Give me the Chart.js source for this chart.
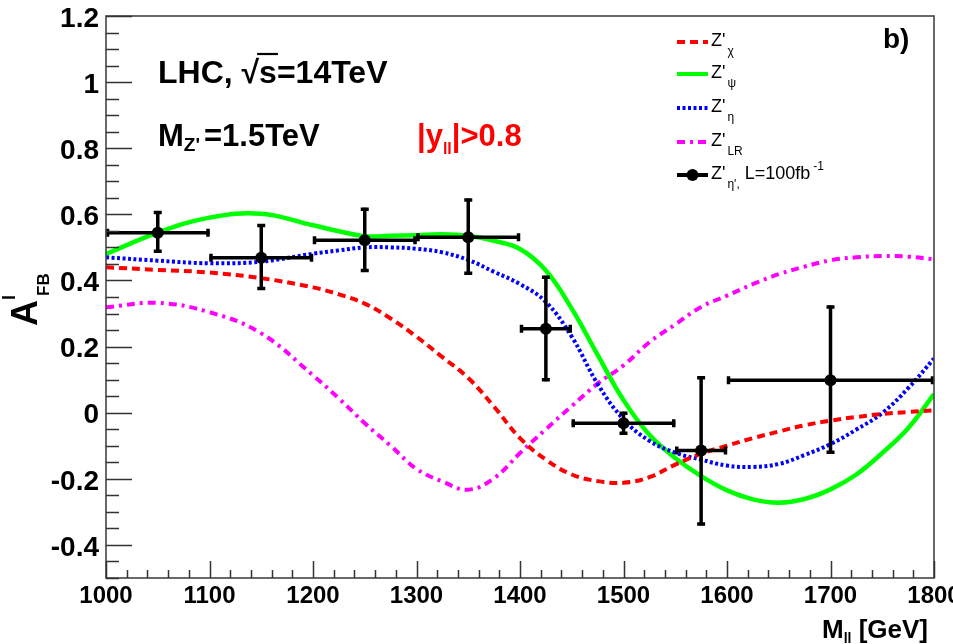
<!DOCTYPE html>
<html><head><meta charset="utf-8">
<script src="https://cdn.jsdelivr.net/npm/chart.js@4.4.1/dist/chart.umd.min.js"></script>
<style>html,body{margin:0;padding:0;background:#fff;}canvas{display:block;}</style>
</head><body>
<canvas id="c" width="953" height="644"></canvas>
<script>
// ---- data ----
const massGrid = [1000,1050,1100,1150,1200,1225,1250,1275,1300,1325,1350,1375,1400,1425,1450,1475,1500,1525,1550,1575,1600,1625,1650,1675,1700,1725,1750,1775,1800];
const zChi = [0.440,0.432,0.424,0.407,0.379,0.358,0.330,0.285,0.230,0.168,0.105,0.018,-0.077,-0.142,-0.187,-0.207,-0.212,-0.195,-0.157,-0.124,-0.100,-0.077,-0.057,-0.038,-0.024,-0.013,-0.004,0.002,0.007];
const zPsi = [0.480,0.545,0.590,0.602,0.567,0.549,0.534,0.535,0.537,0.540,0.535,0.520,0.495,0.430,0.315,0.175,0.038,-0.067,-0.137,-0.192,-0.235,-0.262,-0.272,-0.261,-0.232,-0.187,-0.122,-0.047,0.056];
const zEta = [0.470,0.460,0.452,0.457,0.481,0.491,0.500,0.500,0.496,0.485,0.462,0.426,0.389,0.335,0.230,0.087,-0.020,-0.085,-0.121,-0.142,-0.160,-0.164,-0.155,-0.128,-0.095,-0.051,-0.001,0.074,0.164];
const zLR  = [0.319,0.332,0.304,0.240,0.113,0.043,-0.032,-0.100,-0.170,-0.208,-0.233,-0.198,-0.122,-0.050,0.020,0.088,0.143,0.213,0.267,0.320,0.354,0.389,0.419,0.442,0.461,0.470,0.474,0.472,0.464];

const dataX     = [1050,1150,1250,1350,1425,1500,1575,1700];
const dataY     = [0.544,0.469,0.522,0.531,0.254,-0.032,-0.114,0.098];
const dataXLow  = [1000,1100,1200,1300,1400,1450,1550,1600];
const dataXHigh = [1100,1200,1300,1400,1450,1550,1600,1800];
const dataYLow  = [0.484,0.371,0.426,0.417,0.095,-0.067,-0.341,-0.124];
const dataYHigh = [0.610,0.571,0.620,0.648,0.414,0.003,0.110,0.324];

const xTicks = [1000,1100,1200,1300,1400,1500,1600,1700,1800];
const xTickLabels = ['1000','1100','1200','1300','1400','1500','1600','1700','1800'];
const yTicks = [-0.4,-0.2,0,0.2,0.4,0.6,0.8,1.0,1.2];
const yTickLabels = ['-0.4','-0.2','0','0.2','0.4','0.6','0.8','1','1.2'];

const FONT = '"Liberation Sans", Arial, Helvetica, sans-serif';

function rich(ctx, x, y, parts) {
  for (const p of parts) {
    ctx.font = (p.w || 'bold') + ' ' + p.s + 'px ' + FONT;
    ctx.fillStyle = p.c || '#000';
    x += (p.pre || 0);
    ctx.fillText(p.t, x, y + (p.dy || 0));
    x += ctx.measureText(p.t).width;
  }
  return x;
}

function drawErrorBars(chart) {
  const ctx = chart.ctx, xs = chart.scales.x, ys = chart.scales.y;
  ctx.save();
  ctx.strokeStyle = '#000';
  ctx.lineCap = 'butt';
  for (let i = 0; i < dataX.length; i++) {
    const px = xs.getPixelForValue(dataX[i]), py = ys.getPixelForValue(dataY[i]);
    const x0 = xs.getPixelForValue(dataXLow[i]), x1 = xs.getPixelForValue(dataXHigh[i]);
    const y0 = ys.getPixelForValue(dataYLow[i]), y1 = ys.getPixelForValue(dataYHigh[i]);
    ctx.lineWidth = 3.5;
    ctx.beginPath();
    ctx.moveTo(x0, py); ctx.lineTo(x1, py);
    ctx.moveTo(px, y0); ctx.lineTo(px, y1);
    ctx.stroke();
    ctx.beginPath();
    ctx.moveTo(x0 + 1.5, py - 4); ctx.lineTo(x0 + 1.5, py + 4);
    ctx.moveTo(x1 - 1.5, py - 4); ctx.lineTo(x1 - 1.5, py + 4);
    ctx.moveTo(px - 4, y0 - 1.5); ctx.lineTo(px + 4, y0 - 1.5);
    ctx.moveTo(px - 4, y1 + 1.5); ctx.lineTo(px + 4, y1 + 1.5);
    ctx.stroke();
  }
  ctx.restore();
}

const rootPlugin = {
  id: 'rootStyle',
  beforeDatasetDraw(chart, args) {
    if (args.index === 0) drawErrorBars(chart);
  },
  afterDraw(chart) {
    const ctx = chart.ctx, a = chart.chartArea, xs = chart.scales.x, ys = chart.scales.y;
    ctx.save();
    // frame
    ctx.strokeStyle = '#444';
    ctx.lineWidth = 1.6;
    ctx.strokeRect(a.left, a.top, a.right - a.left, a.bottom - a.top);
    // ticks
    ctx.strokeStyle = '#333';
    ctx.lineWidth = 1.5;
    ctx.beginPath();
    for (let v = -0.5; v <= 1.2001; v += 0.05) {
      const y = Math.round(ys.getPixelForValue(v)) + 0.5;
      const major = Math.abs(Math.round(v * 5) - v * 5) < 1e-6;
      ctx.moveTo(a.left, y); ctx.lineTo(a.left + (major ? 26 : 13), y);
    }
    for (let v = 1000; v <= 1800; v += 20) {
      const x = Math.round(xs.getPixelForValue(v)) + 0.5;
      const major = v % 100 === 0;
      ctx.moveTo(x, a.bottom); ctx.lineTo(x, a.bottom - (major ? 17 : 8));
    }
    ctx.stroke();

    // annotation texts
    ctx.textBaseline = 'alphabetic';
    ctx.textAlign = 'left';
    let x = rich(ctx, 158, 83, [{t: 'LHC, ', s: 32}]);
    x = rich(ctx, x, 83, [{t: '\u221A', s: 32}]);
    const sx = x;
    x = rich(ctx, x, 83, [{t: 's', s: 32}]);
    ctx.strokeStyle = '#000'; ctx.lineWidth = 2.2;
    ctx.beginPath(); ctx.moveTo(sx - 2, 54); ctx.lineTo(x + 1, 54); ctx.stroke();
    rich(ctx, x, 83, [{t: '=14TeV', s: 32}]);

    rich(ctx, 158, 146, [
      {t: 'M', s: 31},
      {t: "Z'", s: 19, dy: 5},
      {t: '=1.5TeV', s: 31, pre: 4}
    ]);
    rich(ctx, 417, 146, [
      {t: '|y', s: 31, c: '#ff0000'},
      {t: 'll', s: 16, dy: 8, c: '#ff0000'},
      {t: '|>0.8', s: 31, c: '#ff0000'}
    ]);
    rich(ctx, 883, 48, [{t: 'b)', s: 28}]);

    // x title (right aligned at 928)
    ctx.font = 'bold 26px ' + FONT;
    const w1 = ctx.measureText('M').width, w3 = ctx.measureText(' [GeV]').width;
    ctx.font = 'bold 14px ' + FONT;
    const w2 = ctx.measureText('ll').width;
    rich(ctx, 928 - (w1 + w2 + w3), 638, [
      {t: 'M', s: 26},
      {t: 'll', s: 14, dy: 5},
      {t: ' [GeV]', s: 26}
    ]);

    // y title rotated
    ctx.save();
    ctx.translate(37, 326);
    ctx.rotate(-Math.PI / 2);
    rich(ctx, 0, 0, [{t: 'A', s: 36}]);
    rich(ctx, 26, -22, [{t: 'l', s: 18}]);
    rich(ctx, 30, 12, [{t: 'FB', s: 17}]);
    ctx.restore();

    // legend
    const lx0 = 677, lx1 = 708, tx = 711;
    const rows = [42, 74, 108, 142, 175];
    const styles = [
      {c: '#ff0000', d: [8, 5]},
      {c: '#00ff00', d: []},
      {c: '#0000ff', d: [3, 2.5]},
      {c: '#ff00ff', d: [8, 5, 3, 5]},
      {c: '#000000', d: []}
    ];
    const subs = ['\u03C7', '\u03C8', '\u03B7', 'LR', "\u03B7',"];
    for (let i = 0; i < 5; i++) {
      const y = rows[i];
      ctx.strokeStyle = styles[i].c;
      ctx.lineWidth = 4;
      ctx.setLineDash(styles[i].d);
      ctx.beginPath(); ctx.moveTo(lx0, y); ctx.lineTo(lx1, y); ctx.stroke();
      ctx.setLineDash([]);
      if (i === 4) {
        ctx.fillStyle = '#000';
        ctx.beginPath(); ctx.arc((lx0 + lx1) / 2, y, 6, 0, Math.PI * 2); ctx.fill();
      }
      const parts = [
        {t: "Z'", s: 18, w: 'normal'},
        {t: subs[i], s: 12, w: 'normal', dy: 9, pre: 2}
      ];
      if (i === 4) {
        parts.push({t: ' L=100fb', s: 18, w: 'normal'});
        parts.push({t: '-1', s: 12, w: 'normal', dy: -9, pre: 3});
      }
      rich(ctx, tx, y + 3.5, parts);
    }
    ctx.restore();
  }
};

const pts = (xsArr, ysArr) => xsArr.map((x, i) => ({x: x, y: ysArr[i]}));
const curve = {pointRadius: 0, tension: 0.4, fill: false};

new Chart(document.getElementById('c').getContext('2d'), {
  type: 'line',
  data: {
    datasets: [
      {label: "Z'eta, L=100fb-1", type: 'scatter', data: pts(dataX, dataY),
       pointRadius: 6, pointBackgroundColor: '#000', pointBorderColor: '#000', pointBorderWidth: 0, showLine: false},
      Object.assign({label: "Z'chi", data: pts(massGrid, zChi), borderColor: '#ff0000', borderWidth: 4, borderDash: [8, 5]}, curve),
      Object.assign({label: "Z'eta", data: pts(massGrid, zEta), borderColor: '#0000ff', borderWidth: 4, borderDash: [3, 2.5]}, curve),
      Object.assign({label: "Z'psi", data: pts(massGrid, zPsi), borderColor: '#00ff00', borderWidth: 4.5}, curve),
      Object.assign({label: "Z'LR", data: pts(massGrid, zLR), borderColor: '#ff00ff', borderWidth: 4, borderDash: [8, 5, 3, 5]}, curve)
    ]
  },
  options: {
    responsive: false,
    animation: false,
    events: [],
    layout: {padding: {left: 0, right: 19, top: 16, bottom: 0}},
    plugins: {legend: {display: false}, tooltip: {enabled: false}},
    scales: {
      x: {
        type: 'linear', min: 1000, max: 1800,
        grid: {display: false, drawTicks: false},
        border: {display: false},
        afterBuildTicks: s => { s.ticks = xTicks.map(v => ({value: v})); },
        ticks: {
          autoSkip: false, maxRotation: 0, padding: 4, color: '#000',
          font: {family: FONT, size: 24, weight: 'bold'},
          callback: (v, i) => xTickLabels[i]
        },
        afterFit: s => { s.height = 66; s.paddingLeft = 0; s.paddingRight = 0; }
      },
      y: {
        type: 'linear', min: -0.5, max: 1.2,
        grid: {display: false, drawTicks: false},
        border: {display: false},
        afterBuildTicks: s => { s.ticks = yTicks.map(v => ({value: v})); },
        ticks: {
          autoSkip: false, padding: 7, color: '#000', labelOffset: 3,
          font: {family: FONT, size: 28, weight: 'bold'},
          callback: (v, i) => yTickLabels[i]
        },
        afterFit: s => { s.width = 106; s.paddingTop = 0; s.paddingBottom = 0; }
      }
    }
  },
  plugins: [rootPlugin]
});
</script>
</body></html>
